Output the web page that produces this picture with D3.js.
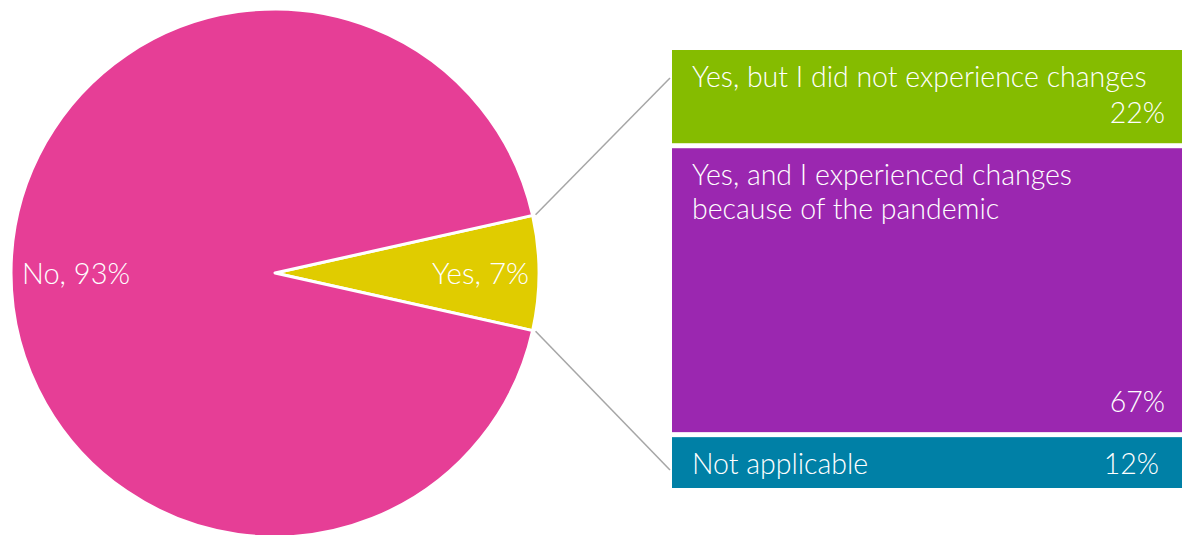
<!DOCTYPE html>
<html>
<head>
<meta charset="utf-8">
<script src="https://cdn.jsdelivr.net/npm/d3@7"></script>
<style>
  html, body { margin: 0; padding: 0; background: #fff; }
  svg { display: block; }
  text { font-family: Lato, "Open Sans", sans-serif; font-weight: 300; fill: #fff; }
</style>
</head>
<body>
<svg id="chart" width="1182" height="535"></svg>
<script>
// Main question: pie shares
const pieLabels = ["Yes", "No"];
const pieValues = [7, 93];
const pieColors = ["#E0CC00", "#E63E96"];

// Breakdown of the "Yes" answers
const barLabels = [
  ["Yes, but I did not experience changes"],
  ["Yes, and I experienced changes", "because of the pandemic"],
  ["Not applicable"]
];
const barValues = [22, 67, 12];
const barColors = ["#85BC00", "#9B27B0", "#0080A6"];

const svg = d3.select("#chart");

// ---- Pie ----
const cx = 275, cy = 273, r = 264;
const yesSpan = pieValues[0] / d3.sum(pieValues) * 2 * Math.PI;
const pie = d3.pie().sort(null).value(d => d)
  .startAngle(Math.PI / 2 - yesSpan / 2)
  .endAngle(Math.PI / 2 - yesSpan / 2 + 2 * Math.PI);
const arcs = pie(pieValues);
const arc = d3.arc().innerRadius(0).outerRadius(r);

const pg = svg.append("g").attr("transform", `translate(${cx},${cy})`);
pg.selectAll("path").data(arcs).join("path")
  .attr("d", arc)
  .attr("fill", (d, i) => pieColors[i])
  .attr("stroke", "#fff")
  .attr("stroke-width", 3)
  .attr("stroke-linejoin", "round");

// Slice labels
pg.append("text")
  .attr("x", r - 10).attr("y", 11)
  .attr("text-anchor", "end")
  .attr("font-size", 29.5)
  .text(`${pieLabels[0]}, ${pieValues[0]}%`);
pg.append("text")
  .attr("x", -r + 11).attr("y", 11)
  .attr("text-anchor", "start")
  .attr("font-size", 29)
  .text(`${pieLabels[1]}, ${pieValues[1]}%`);

// ---- Stacked breakdown bar ----
const bx = 672, bw = 510, barTop = 50, barBottom = 488, gap = 5;
const total = d3.sum(barValues);
const avail = barBottom - barTop - gap * (barValues.length - 1);
const h = d3.scaleLinear().domain([0, total]).range([0, avail]);

let y0 = barTop;
const segs = barValues.map((v, i) => {
  const s = { i, v, y: y0, h: h(v) };
  y0 += h(v) + gap;
  return s;
});

// Connector lines from the "Yes" slice to the bar
const a0 = arcs[0].startAngle, a1 = arcs[0].endAngle;
const edgePt = a => [cx + (r + 3) * Math.sin(a), cy - (r + 3) * Math.cos(a)];
const p0 = edgePt(a0), p1 = edgePt(a1);
svg.append("line")
  .attr("x1", p0[0]).attr("y1", p0[1]).attr("x2", bx - 2).attr("y2", barTop + 28)
  .attr("stroke", "#A6A6A6").attr("stroke-width", 1.5);
svg.append("line")
  .attr("x1", p1[0]).attr("y1", p1[1]).attr("x2", bx - 2).attr("y2", barBottom - 18)
  .attr("stroke", "#A6A6A6").attr("stroke-width", 1.5);

const bg = svg.append("g");
segs.forEach(s => {
  bg.append("rect")
    .attr("x", bx).attr("y", s.y)
    .attr("width", bw).attr("height", s.h)
    .attr("fill", barColors[s.i]);
  const lines = barLabels[s.i];
  const t = bg.append("text")
    .attr("x", bx + 20).attr("font-size", 28.5);
  lines.forEach((ln, k) => {
    t.append("tspan").attr("x", bx + 20).attr("y", s.y + 37 + k * 34).text(ln);
  });
  const last = s.i === barValues.length - 1;
  bg.append("text")
    .attr("x", last ? bx + bw - 23 : bx + bw - 17)
    .attr("y", last ? s.y + 37 : s.y + s.h - 20)
    .attr("text-anchor", "end")
    .attr("font-size", 28.5)
    .text(`${s.v}%`);
});
</script>
</body>
</html>
